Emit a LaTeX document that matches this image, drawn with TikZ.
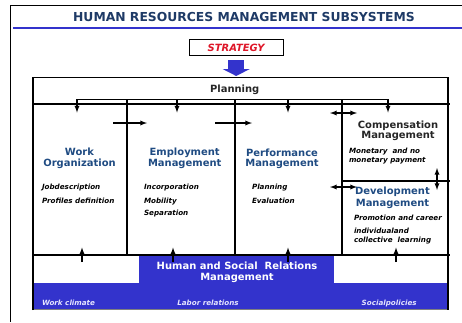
\documentclass[tikz,border=0pt]{standalone}
\usepackage{fontspec}
\setmainfont{DejaVu Sans}
\usetikzlibrary{arrows.meta}
\definecolor{hblue}{RGB}{51,51,204}
\definecolor{hnavy}{RGB}{30,58,102}
\definecolor{hhead}{RGB}{31,75,130}
\definecolor{hred}{RGB}{222,22,40}
\definecolor{hpale}{RGB}{228,228,255}

\begin{document}
\begin{tikzpicture}[x=1bp,y=-1bp,line width=1.3bp,>=latex]
    \tikzstyle{every node}=[inner sep=0,outer sep=0]
    \tikzstyle{head}=[font=\bfseries\fontsize{10}{10.3}\selectfont,text=hhead,align=center]
    \tikzstyle{item}=[font=\bfseries\itshape\fontsize{7.2}{8}\selectfont,anchor=base west]
    \tikzstyle{bandtext}=[item,text=hpale]
    \useasboundingbox (0,0) rectangle (462,322);
    % outer frame and title
    \draw (462,5.5) -- (10.5,5.5) -- (10.5,322);
    \draw [hblue,line width=2.5bp] (13,28) -- (462,28);
    \node [font=\bfseries\fontsize{12.4}{14}\selectfont,text=hnavy] (title) at (244,16.7) {HUMAN RESOURCES MANAGEMENT SUBSYSTEMS};
    \node [draw,minimum width=94bp,minimum height=16.4bp,font=\bfseries\itshape\fontsize{10}{12}\selectfont,text=hred] (strategy) at (236.2,47.5) {STRATEGY};
    \coordinate (plantop) at (236.2,76);
    \draw [hblue,line width=16bp,-{Triangle[width=27bp,length=7bp]}] ([yshift=-4.3bp]strategy.south) -- (plantop);
    % blue band
    \fill [hblue] (139,255) rectangle (334,283);
    \fill [hblue] (33,283) rectangle (448,309.5);
    \draw [gray,line width=0.8bp] (33,309.5) -- (448,309.5);
    % boxes
    \draw (33,310) -- (33,77.5) -- (448,77.5) -- (448,309.5);
    \draw (33,104) -- (450,104);
    \draw (342,181) -- (450,181);
    \draw (33,255) -- (450,255);
    \draw (127,99.3) -- (127,255);
    \draw (235,99.3) -- (235,255);
    \draw (342,99.3) -- (342,255);
    \node [font=\bfseries\fontsize{10}{12}\selectfont,text=black!85] (planning) at (234.7,90) {Planning};
    % planning to subsystems
    \coordinate (p1) at (77,99.3);
    \coordinate (p2) at (177,99.3);
    \coordinate (p3) at (288,99.3);
    \coordinate (p4) at (388,99.3);
    \draw (p1) -- (p4);
    \draw [->] (p1) -- (77,112.5);
    \draw [->] (p2) -- (177,112.5);
    \draw [->] (p3) -- (288,112.5);
    \draw [->] (p4) -- (388,112.5);
    % links between subsystems
    \coordinate (w1) at (113,123);
    \coordinate (e1) at (147,123);
    \coordinate (e2) at (215,123);
    \coordinate (f1) at (252,123);
    \draw [->] (w1) -- (e1);
    \draw [->] (e2) -- (f1);
    \coordinate (f2) at (330,113);
    \coordinate (c1) at (357,113);
    \draw [<->] (f2) -- (c1);
    \coordinate (f3) at (330,187);
    \coordinate (d1) at (357,187);
    \draw [<->] (f3) -- (d1);
    \coordinate (c2) at (437,168);
    \coordinate (d2) at (437,190);
    \draw [<->] (c2) -- (d2);
    % relations to subsystems
    \draw [->] (82,262) -- (82,247.5);
    \draw [->] (173,262) -- (173,247.5);
    \draw [->] (288,262) -- (288,247.5);
    \draw [->] (396,262) -- (396,247.5);
    % subsystem texts
    \node [head] (work) at (79.5,158.3) {Work\\Organization};
    \node [item] (job) at (42,189.3) {Jobdescription};
    \node [item] (prof) at (42,203.3) {Profiles definition};
    \node [head] (empl) at (184.7,158.3) {Employment\\Management};
    \node [item] (inc) at (144,189.3) {Incorporation};
    \node [item] (mob) at (144,203.3) {Mobility};
    \node [item] (sep) at (144,215.3) {Separation};
    \node [head] (perf) at (282,158.5) {Performance\\Management};
    \node [item] (plan) at (252,189.3) {Planning};
    \node [item] (eval) at (252,203.3) {Evaluation};
    \node [head,text=black!85] (comp) at (398,130.7) {Compensation\\Management};
    \node [item] (mon1) at (349,153.2) {Monetary\ \ and no};
    \node [item] (mon2) at (349,162.8) {monetary payment};
    \node [head,font=\bfseries\fontsize{10}{12.3}\selectfont] (dev) at (392.5,197.8) {Development\\Management};
    \node [item] (prom) at (354,220.8) {Promotion and career};
    \node [item] (indiv) at (354,233.2) {individualand};
    \node [item] (coll) at (354,242.8) {collective\ \ learning};
    % relations texts
    \node [head,text=white] (hsr) at (237,272.3) {Human and Social\ \ Relations\\Management};
    \node [bandtext] (clim) at (42,305.8) {Work climate};
    \node [bandtext] (labor) at (177.3,305.8) {Labor relations};
    \node [bandtext] (soc) at (361.7,305.8) {Socialpolicies};
\end{tikzpicture}
\end{document}
